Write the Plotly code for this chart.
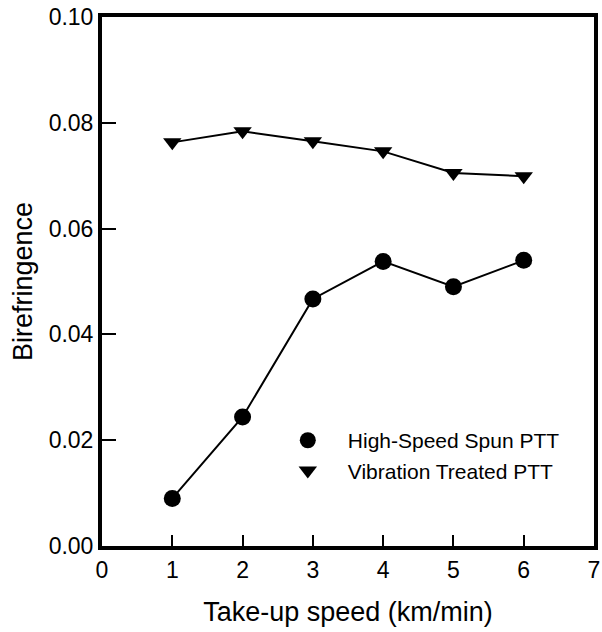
import plotly.graph_objects as go

speed = [1, 2, 3, 4, 5, 6]
high_speed_spun = [0.0090, 0.0244, 0.0467, 0.0538, 0.0490, 0.0540]
vibration_treated = [0.0763, 0.0784, 0.0765, 0.0746, 0.0705, 0.0699]

x_ticks = [0, 1, 2, 3, 4, 5, 6, 7]
y_ticks = [0.00, 0.02, 0.04, 0.06, 0.08, 0.10]
y_tick_text = ["0.00", "0.02", "0.04", "0.06", "0.08", "0.10"]

FONT = "Arial, 'Liberation Sans', sans-serif"

fig = go.Figure()
series = [
    ("High-Speed Spun PTT", high_speed_spun, "circle", 17),
    ("Vibration Treated PTT", vibration_treated, "triangle-down", 16),
]
for name, vals, sym, size in series:
    fig.add_trace(go.Scatter(
        x=speed, y=vals, mode="lines", showlegend=False, hoverinfo="skip",
        line=dict(color="black", width=2),
    ))
for name, vals, sym, size in series:
    fig.add_trace(go.Scatter(
        x=speed, y=vals, name=name, mode="markers",
        marker=dict(symbol=sym, size=size, color="black"),
    ))

axis_common = dict(
    showline=True, linecolor="black", linewidth=4, mirror=True,
    ticks="inside", tickcolor="black", tickwidth=2,
    showgrid=False, zeroline=False, automargin=False,
    tickfont=dict(family=FONT, size=23, color="black"),
)

fig.update_layout(
    width=602, height=632,
    margin=dict(l=102, r=8, t=17, b=86),
    paper_bgcolor="white", plot_bgcolor="white",
    font=dict(family=FONT, color="black"),
    showlegend=True,
    legend=dict(
        x=0.337, y=0.238, xanchor="left", yanchor="top",
        font=dict(family=FONT, size=21, color="black"),
        bgcolor="rgba(0,0,0,0)", itemwidth=70, tracegroupgap=0,
    ),
    xaxis=dict(
        range=[0, 7], tickvals=x_ticks, ticklen=11,
        title=dict(text="Take-up speed (km/min)", font=dict(family=FONT, size=27), standoff=22),
        **axis_common,
    ),
    yaxis=dict(
        range=[0, 0.10], tickvals=y_ticks, ticktext=y_tick_text, ticklen=14,
        title=dict(text="Birefringence", font=dict(family=FONT, size=27), standoff=9),
        **axis_common,
    ),
)

fig.write_html("out.html", post_script="document.body.style.margin='0';",
               config={"displayModeBar": False})
